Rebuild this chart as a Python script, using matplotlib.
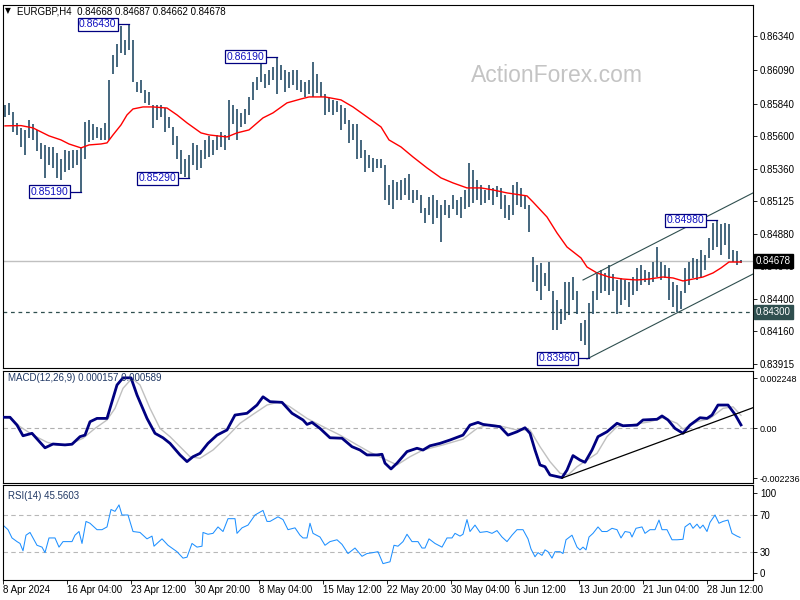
import matplotlib
matplotlib.use("Agg")
import matplotlib.pyplot as plt
import numpy as np

plt.rcParams['font.family'] = ['Liberation Sans', 'DejaVu Sans']

# ---- EURGBP H4 price bars (one entry per 8 hours), in pips ----
bar_high = [8583, 8585, 8578, 8570, 8566, 8565, 8572, 8569, 8565, 8555,
            8554, 8552, 8552, 8548, 8543, 8550, 8549, 8550, 8550, 8552,
            8571, 8572, 8569, 8567, 8566, 8570, 8602, 8620, 8628, 8642,
            8631, 8643, 8631, 8600, 8602, 8594, 8593, 8583, 8583, 8583,
            8581, 8574, 8567, 8560, 8550, 8543, 8546, 8555, 8554, 8550,
            8557, 8560, 8557, 8561, 8563, 8561, 8587, 8583, 8580, 8577,
            8580, 8589, 8600, 8604, 8615, 8606, 8609, 8611, 8619, 8613,
            8609, 8608, 8609, 8609, 8602, 8600, 8602, 8615, 8606, 8600,
            8591, 8589, 8587, 8586, 8583, 8581, 8572, 8569, 8569, 8557,
            8550, 8546, 8544, 8543, 8543, 8539, 8524, 8528, 8526, 8528,
            8529, 8532, 8520, 8520, 8517, 8507, 8515, 8517, 8513, 8509,
            8513, 8509, 8517, 8513, 8515, 8520, 8540, 8535, 8528, 8524,
            8520, 8524, 8522, 8523, 8522, 8517, 8509, 8524, 8526, 8522,
            8517, 8509, 8471, 8465, 8466, 8459, 8467, 8446, 8439, 8432,
            8452, 8452, 8456, 8446, 8422, 8424, 8437, 8446, 8458, 8461,
            8459, 8465, 8458, 8454, 8455, 8454, 8452, 8456, 8463, 8465,
            8461, 8460, 8467, 8478, 8467, 8465, 8463, 8452, 8450, 8446,
            8463, 8467, 8470, 8469, 8476, 8472, 8485, 8496, 8498, 8495,
            8496, 8495, 8476, 8475, 8468.7]
bar_low = [8574, 8576, 8563, 8561, 8552, 8546, 8559, 8557, 8549, 8543,
           8529, 8539, 8537, 8529, 8528, 8534, 8535, 8537, 8539, 8519,
           8543, 8556, 8557, 8559, 8557, 8557, 8557, 8606, 8611, 8622,
           8620, 8624, 8600, 8593, 8592, 8585, 8583, 8566, 8572, 8574,
           8563, 8566, 8554, 8543, 8532, 8530, 8529, 8539, 8535, 8537,
           8543, 8545, 8546, 8550, 8552, 8550, 8557, 8569, 8557, 8567,
           8569, 8576, 8587, 8594, 8600, 8596, 8598, 8602, 8591, 8602,
           8593, 8596, 8598, 8594, 8593, 8589, 8591, 8589, 8592, 8589,
           8576, 8578, 8576, 8578, 8565, 8569, 8555, 8557, 8543, 8544,
           8534, 8537, 8534, 8537, 8537, 8513, 8509, 8506, 8513, 8513,
           8517, 8513, 8511, 8513, 8503, 8496, 8502, 8495, 8500, 8482,
           8502, 8500, 8506, 8502, 8500, 8506, 8508, 8511, 8513, 8509,
           8511, 8513, 8509, 8515, 8506, 8500, 8498, 8502, 8509, 8508,
           8506, 8489, 8452, 8446, 8439, 8449, 8446, 8417, 8417, 8421,
           8424, 8428, 8439, 8429, 8409, 8406, 8396, 8429, 8439, 8444,
           8446, 8443, 8446, 8429, 8435, 8439, 8434, 8443, 8446, 8450,
           8452, 8450, 8452, 8456, 8454, 8455, 8439, 8434, 8430, 8432,
           8444, 8450, 8455, 8454, 8455, 8461, 8470, 8476, 8478, 8472,
           8480, 8469, 8467, 8465, 8466.2]
last_close = 0.84678
support_level = 0.84300

# red moving average (bar index, pips)
ma_idx = [0, 4, 7, 9.5, 11, 14, 16, 19, 21, 24, 25.5, 27, 29, 30.5, 32, 34.5, 37,
          40.5, 43, 45.5, 49, 51, 55.5, 58, 61, 64.5, 67, 70.5, 74, 76, 80, 84, 87,
          90.5, 94, 96, 99, 102, 105.5, 109, 112, 115.5, 119, 122, 125.5, 130.5,
          132, 135.5, 138, 140.5, 144, 145.5, 148, 151, 154.5, 158, 161, 164.5,
          167, 169.5, 172, 174.5, 177, 179, 181, 184]
ma_val = [8567.8, 8568, 8566.3, 8562.6, 8560.4, 8557.4, 8554.4, 8551.5, 8553.7,
          8554.4, 8555.2, 8561.1, 8568.5, 8575.9, 8580.3, 8581.8, 8581.8, 8581,
          8575.9, 8570, 8562.6, 8561.1, 8559.6, 8562.6, 8564.8, 8573.7, 8577.4,
          8584.8, 8587.7, 8589.2, 8589.2, 8587, 8581.8, 8574.4, 8567, 8557.4,
          8552.2, 8544.8, 8536.7, 8529.3, 8525.6, 8521.9, 8521.9, 8520.4, 8518.2,
          8516, 8511.5, 8500.4, 8488.6, 8478.2, 8470.1, 8463.4, 8459, 8456,
          8454.5, 8453.8, 8454.5, 8456, 8455.3, 8453.1, 8454.5, 8456, 8459,
          8462.7, 8467.1, 8467.1]

# rising channel (bar index, price)
chan_up_idx = [144.5, 187]
chan_up_val = [0.84538, 0.85182]
chan_lo_idx = [145.5, 187]
chan_lo_val = [0.83954, 0.84582]

# swing labels
ext_idx = [31, 19, 46, 68, 178, 146]
ext_val = [0.86430, 0.85190, 0.85290, 0.86190, 0.84980, 0.83960]

# ---- MACD(12,26,9) ----
macd_idx = [-0.5, 1.25, 3, 4.5, 6.75, 8.25, 10, 12, 15, 16.75, 18.75, 20, 21.25,
            23, 25.5, 26.75, 28, 29.5, 31.5, 33, 35.5, 37.5, 39.5, 41.25, 43.75,
            45.5, 47, 48.75, 50.75, 53, 55.5, 57.5, 60.5, 63, 64.5, 66.25, 69.25,
            71.75, 74.5, 75.5, 76.75, 78.75, 81.25, 84.25, 86.75, 88.75, 90.5, 93,
            94.25, 95, 96.5, 98, 100.5, 103, 104.5, 106.25, 108.75, 111.25, 114.5,
            116.25, 118.25, 119.5, 123.75, 125.75, 128, 130, 131.25, 132.5, 133.75,
            135, 136.25, 139.25, 140.5, 142, 143.75, 145, 146.75, 148.25, 150.5,
            153, 154.5, 158, 159.5, 163, 164.25, 165.75, 167.5, 169.5, 171.25,
            173.75, 175.5, 176.75, 178.25, 180.75, 182.5, 184]
macd_val = [0.00050, 0.00050, 0.00015, -0.00033, -0.00022, -0.00052, -0.00087,
            -0.00070, -0.00074, -0.00071, -0.00037, -0.00030, 0.00030, 0.00045,
            0.00045, 0.00120, 0.00195, 0.00227, 0.00227, 0.00150, 0.00045,
            -0.00022, -0.00042, -0.00067, -0.00119, -0.00149, -0.00127, -0.00112,
            -0.00067, -0.00030, -0.00007, 0.00060, 0.00068, 0.00105, 0.00142,
            0.00120, 0.00117, 0.00068, 0.00038, 0.00018, 0.00027, 0.00000,
            -0.00042, -0.00044, -0.00082, -0.00097, -0.00119, -0.00119, -0.00116,
            -0.00156, -0.00182, -0.00156, -0.00104, -0.00089, -0.00097, -0.00078,
            -0.00067, -0.00052, -0.00030, 0.00015, 0.00027, 0.00018, 0.00008,
            -0.00030, -0.00015, 0.00003, -0.00022, -0.00097, -0.00164, -0.00172,
            -0.00209, -0.00221, -0.00187, -0.00122, -0.00142, -0.00152, -0.00097,
            -0.00037, -0.00015, 0.00023, 0.00012, 0.00015, 0.00038, 0.00041,
            0.00056, 0.00038, 0.00000, -0.00022, 0.00015, 0.00048, 0.00045,
            0.00060, 0.00105, 0.00105, 0.00063, 0.000157]
signal_idx = [-0.5, 1.25, 3.75, 7, 10.5, 13, 16.25, 19.5, 22.5, 25.5, 27.5, 29.5,
              31.75, 33.75, 36.25, 38.75, 41.25, 43.75, 46.25, 48.75, 52, 55.5,
              58.75, 62, 65.5, 68.75, 71.25, 75.5, 79.5, 83.75, 88, 91.25, 94.5,
              98, 101.25, 104.5, 109.5, 114.5, 118, 121.25, 124.5, 128, 131.25,
              133.75, 136.25, 138.75, 140.75, 143, 145.5, 148, 150.5, 153, 156.25,
              161.25, 164.5, 168, 169.5, 173, 176.25, 179.5, 182, 184]
signal_val = [0.00051, 0.00048, 0.00008, -0.00030, -0.00062, -0.00074, -0.00071,
              -0.00044, 0.00000, 0.00038, 0.00090, 0.00180, 0.00225, 0.00195,
              0.00090, 0.00000, -0.00037, -0.00082, -0.00127, -0.00134, -0.00097,
              -0.00037, 0.00023, 0.00063, 0.00105, 0.00120, 0.00097, 0.00045,
              0.00008, -0.00030, -0.00074, -0.00107, -0.00134, -0.00164, -0.00127,
              -0.00097, -0.00074, -0.00048, 0.00000, 0.00018, 0.00008, -0.00007,
              -0.00007, -0.00082, -0.00149, -0.00201, -0.00209, -0.00172,
              -0.00142, -0.00112, -0.00037, 0.00008, 0.00015, 0.00030, 0.00048,
              0.00023, -0.00003, 0.00030, 0.00045, 0.00090, 0.00097, 0.000589]
macd_trend_idx = [139.25, 187]
macd_trend_val = [-0.00223, 0.00093]

# ---- RSI(14) ----
rsi_idx = [-0.5, 0.75, 1.75, 3, 3.75, 4.5, 5.25, 6.25, 7, 8, 9.25, 10, 11, 12.5,
           13.5, 14.5, 16.75, 17.5, 18.5, 19.25, 20.25, 21.25, 23, 24.25, 25.5,
           26.5, 27.5, 28.5, 29.25, 30.75, 32, 33.75, 35.5, 36.75, 37.25, 39.25,
           40.75, 43, 44.5, 45.5, 46.75, 48, 49.25, 49.5, 50.75, 52, 53.25, 54.5,
           55.75, 57.5, 58, 59.25, 60.75, 62.5, 64.5, 65.5, 66.25, 68.25, 69.5,
           70.75, 72.5, 73.75, 74.5, 75.5, 76.25, 77, 78.75, 80, 81.25, 83, 84.25,
           85.75, 87.5, 89.25, 90.5, 92, 93.25, 94.5, 96.25, 97.25, 98.25, 99.5,
           100.5, 101.75, 103.25, 104.25, 105, 106, 107.5, 109.25, 110.5, 111.75,
           112.5, 113.75, 114.5, 115.5, 116.25, 117.5, 118.75, 120.5, 121.75, 123,
           124.25, 125.5, 126.75, 128, 129.5, 130.75, 131.5, 132.5, 133.25, 134.25,
           135, 135.75, 136.75, 137.5, 138.75, 139.5, 140.25, 141.75, 143, 143.75,
           144.5, 145.25, 146, 147, 148.25, 149.25, 150.5, 151.75, 153, 154, 155,
           156.25, 156.75, 157.75, 159.25, 160, 161.25, 162.5, 163.5, 164.25,
           165.5, 166.75, 168, 169.5, 170, 171.25, 172, 173, 173.75, 174.5, 175.5,
           176.25, 177.5, 178.5, 179.5, 180.75, 181.75, 183, 183.75]
rsi_val = [59, 54, 45, 41, 39, 31, 48, 51, 45, 37, 35, 29, 45, 45, 35, 41, 41, 48,
           52, 39, 63, 61, 54, 54, 57, 76, 74, 81, 70, 70, 52, 51, 44, 47, 36, 44,
           37, 30, 23, 24, 39, 35, 36, 51, 49, 50, 57, 52, 66, 66, 50, 56, 59, 70,
           75, 63, 63, 68, 65, 54, 56, 48, 45, 45, 61, 50, 46, 37, 41, 43, 38, 28,
           34, 25, 28, 29, 30, 17, 19, 37, 36, 41, 49, 41, 41, 34, 34, 44, 39, 35,
           45, 45, 50, 47, 49, 65, 52, 59, 51, 52, 50, 53, 46, 41, 48, 54, 54, 44,
           33, 24.5, 29, 26, 32, 30, 23, 30, 30, 28, 43, 48, 35, 32, 35, 32, 46,
           50, 57, 52, 52, 55.5, 54, 45, 52, 51, 46, 55.5, 57, 50, 54, 54, 64.5,
           54, 54, 43, 43, 43.5, 57, 61, 55.5, 60, 55.5, 59, 52, 62, 70, 61, 63,
           64.5, 50, 47, 45.56]
rsi_levels = [30, 70]

# time axis labels, one every 16 bars (32 H4 bars)
time_labels = ['8 Apr 2024', '16 Apr 04:00', '23 Apr 12:00', '30 Apr 20:00',
               '8 May 04:00', '15 May 12:00', '22 May 20:00', '30 May 04:00',
               '6 Jun 12:00', '13 Jun 20:00', '21 Jun 04:00', '28 Jun 12:00']

price_ticks = [0.86340, 0.86090, 0.85840, 0.85600, 0.85360, 0.85125, 0.84880,
               0.84640, 0.84400, 0.84160, 0.83915]

BAR_C = '#1b4560'
NAVY = '#000080'
SLATE = '#2f4f4f'
LBL_C = '#203864'

fig = plt.figure(figsize=(8, 6), dpi=100)
L, W = 3 / 800, 750 / 800
ax = fig.add_axes([L, 1 - 368 / 600, W, 363 / 600])
axm = fig.add_axes([L, 1 - 483 / 600, W, 112.5 / 600])
axr = fig.add_axes([L, 1 - 579.5 / 600, W, 94.5 / 600])

for a in (ax, axm, axr):
    a.set_xlim(-0.5, 187)
    a.yaxis.tick_right()
    a.tick_params(axis='y', direction='out', length=3, width=0.6, pad=2,
                  labelsize=7, colors='black')
    a.tick_params(axis='x', bottom=False, labelbottom=False)
    for s in a.spines.values():
        s.set_color('black')
        s.set_linewidth(0.8)

# ---- main price panel ----
x = np.arange(len(bar_high))
hi = np.array(bar_high) / 1e4
lo = np.array(bar_low) / 1e4
ax.axhline(last_close, color='#c0c0c0', lw=1, zorder=0)
ax.axhline(support_level, color=SLATE, lw=0.9, ls=(0, (3, 3)), zorder=1)
ax.vlines(x, lo, hi, color=BAR_C, lw=1.15, zorder=2)
ax.plot(ma_idx, np.array(ma_val) / 1e4, color='red', lw=1, zorder=3)
ax.plot(chan_up_idx, chan_up_val, color=SLATE, lw=0.8, zorder=3)
ax.plot(chan_lo_idx, chan_lo_val, color=SLATE, lw=0.8, zorder=3)
ax.set_ylim(0.83887, 0.86572)
ax.set_yticks(price_ticks)
ax.set_yticklabels([f'{v:.5f}' for v in price_ticks])

for i, v in zip(ext_idx, ext_val):
    ax.plot([i - 3.1, i], [v, v], color=NAVY, lw=0.9, zorder=4)
    ax.text(i - 3.1, v, f'{v:.5f}', ha='right', va='center', fontsize=7.5,
            color='#1010c0', zorder=6,
            bbox=dict(boxstyle='square,pad=0.15', fc='white', ec=NAVY, lw=0.9))

ytr = ax.get_yaxis_transform()
ax.text(1.004, last_close, f'{last_close:.5f}', transform=ytr, ha='left',
        va='center', fontsize=7, color='white', zorder=8, clip_on=False,
        bbox=dict(boxstyle='square,pad=0.2', fc='black', ec='black'))
ax.text(1.004, support_level, f'{support_level:.5f}', transform=ytr, ha='left',
        va='center', fontsize=7, color='white', zorder=8, clip_on=False,
        bbox=dict(boxstyle='square,pad=0.2', fc=SLATE, ec=SLATE))

fig.text(5 / 800, 1 - 11 / 600, '\u25bc', fontsize=5.5, va='center', ha='left',
         family='DejaVu Sans')
fig.text(17 / 800, 1 - 11 / 600, 'EURGBP,H4  0.84668 0.84687 0.84662 0.84678',
         fontsize=7, va='center', ha='left', color='black')
fig.text(557 / 800, 1 - 75 / 600, 'ActionForex.com', fontsize=16.5, color='#c4c4c4',
         ha='center', va='center')

# ---- MACD panel ----
axm.axhline(0, color='#b0b0b0', lw=0.8, ls=(0, (4, 3)), zorder=0)
axm.plot(signal_idx, signal_val, color='#c0c0c0', lw=1, zorder=2)
axm.plot(macd_idx, macd_val, color=NAVY, lw=2, zorder=3)
axm.plot(macd_trend_idx, macd_trend_val, color='black', lw=0.9, zorder=4)
axm.set_ylim(-0.00245, 0.00260)
axm.set_yticks([0.002248, 0.0, -0.002236])
axm.set_yticklabels(['0.002248', '0.00', '-0.002236'])
axm.tick_params(axis='y', labelsize=6.5, pad=1.5)
axm.text(0.006, 0.93, 'MACD(12,26,9) 0.000157 0.000589', transform=axm.transAxes,
         fontsize=7, color=LBL_C, va='center', ha='left')

# ---- RSI panel ----
for lv in rsi_levels:
    axr.axhline(lv, color='#b8b8b8', lw=0.8, ls=(0, (4, 3)), zorder=0)
axr.plot(rsi_idx, rsi_val, color='#1e90ff', lw=0.75, zorder=2)
axr.set_ylim(-0.3, 102.7)
axr.set_yticks([93.5, 70, 30, 7])
axr.set_yticklabels(['100', '70', '30', '0'])
axr.text(0.006, 0.885, 'RSI(14) 45.5603', transform=axr.transAxes,
         fontsize=7, color=LBL_C, va='center', ha='left')

tick_pos = -0.5 + 16 * np.arange(len(time_labels))
axr.set_xticks(tick_pos)
axr.set_xticklabels(time_labels)
axr.tick_params(axis='x', bottom=True, labelbottom=True, direction='out',
                length=3, width=0.6, pad=1, labelsize=7)
for lab in axr.get_xticklabels():
    lab.set_ha('left')

fig.savefig('out.png', dpi=100, facecolor='white')
